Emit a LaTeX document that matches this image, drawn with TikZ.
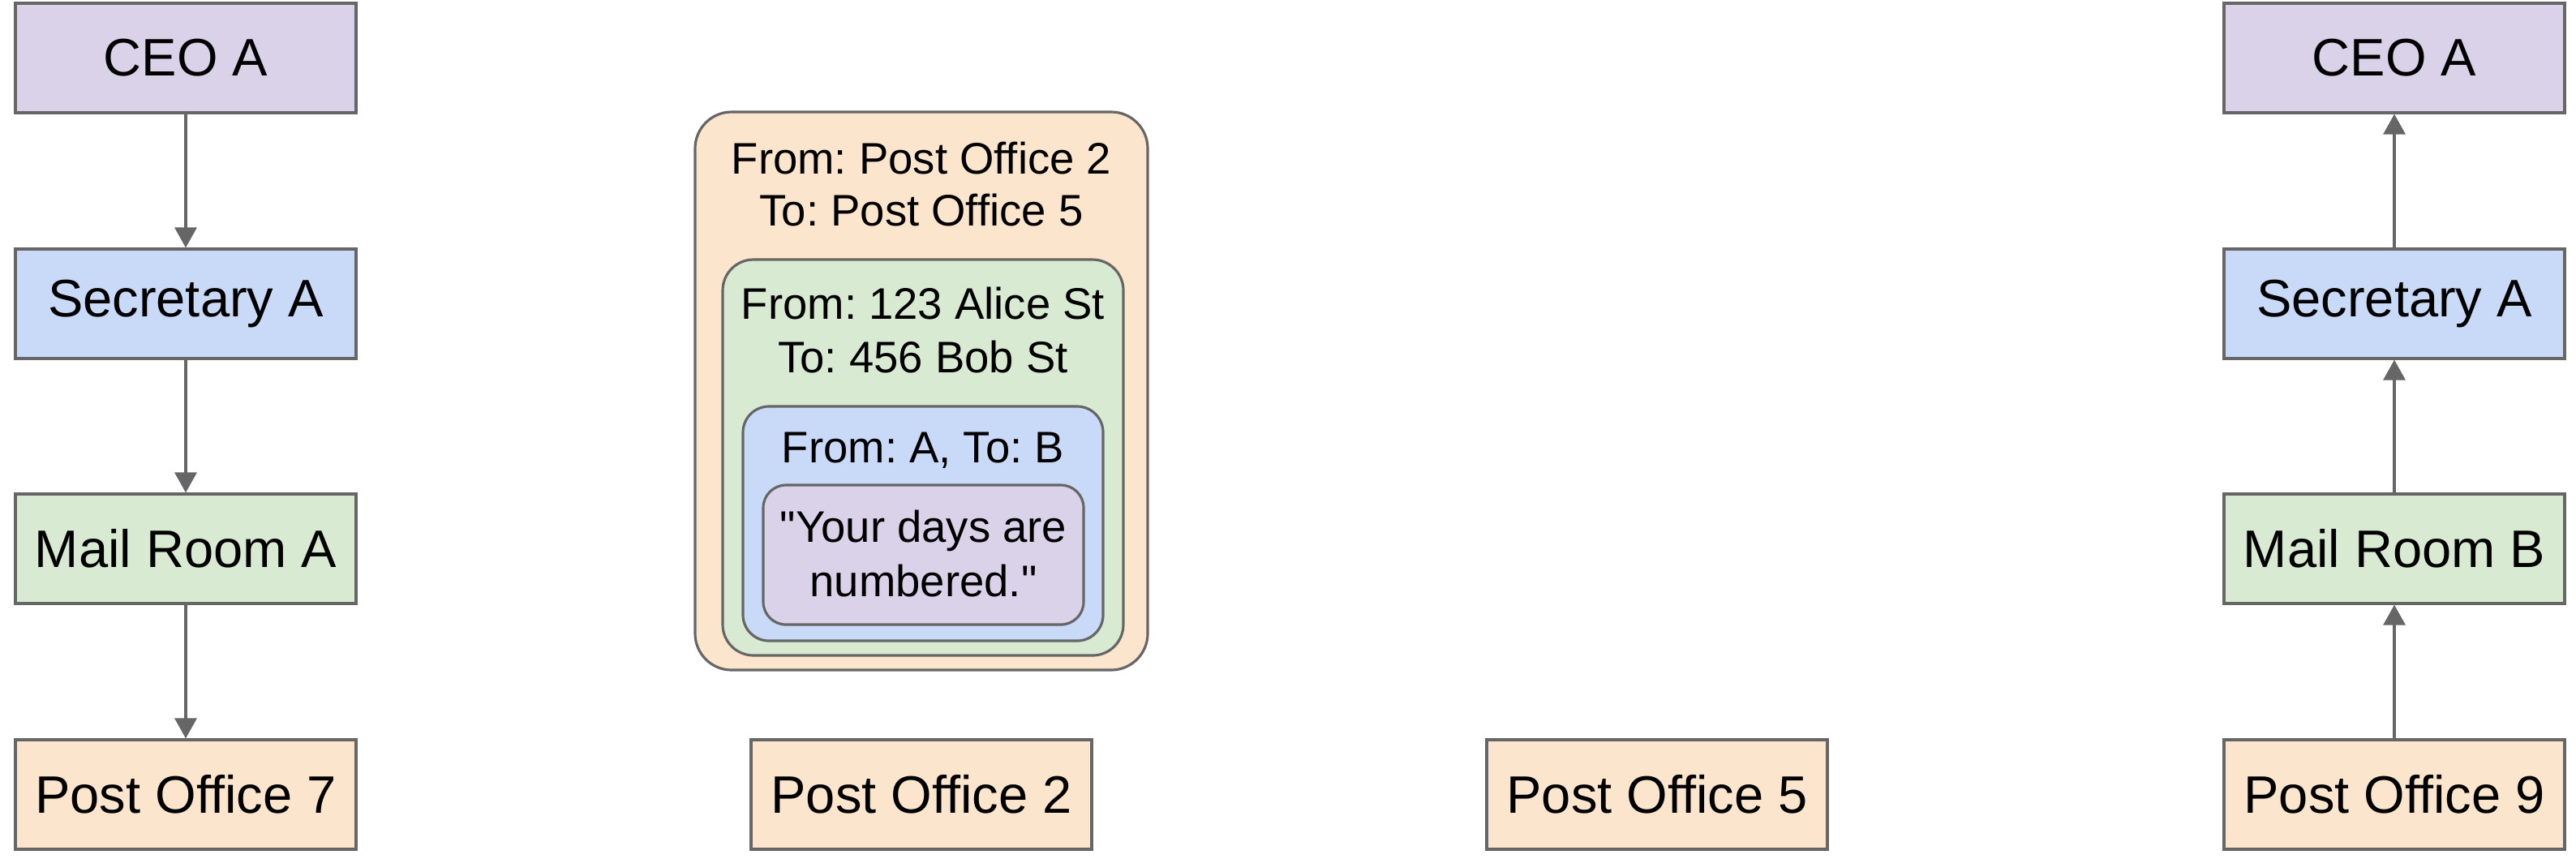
\documentclass[tikz,border=0pt]{standalone}
\usepackage{fontspec}
\setmainfont{Liberation Sans}[Ligatures=TeXOff]
\usetikzlibrary{arrows.meta}
\definecolor{ceofill}{HTML}{D9D2E9}
\definecolor{secfill}{HTML}{C9DAF8}
\definecolor{mailfill}{HTML}{D9EAD3}
\definecolor{postfill}{HTML}{FCE5CD}
\definecolor{edge}{HTML}{666666}
\frenchspacing
\begin{document}
\begin{tikzpicture}[x=1cm,y=-1cm,
	box/.style={draw=edge, line width=0.9pt, minimum width=4.2cm, minimum height=1.35cm, inner sep=0pt, font=\fontsize{18.5}{22}\selectfont},
	env/.style={draw=edge, line width=0.9pt, inner sep=0pt},
	txt/.style={anchor=base, inner sep=0pt, font=\fontsize{15.5}{18}\selectfont},
	arr/.style={draw=edge, line width=0.9pt, -{Triangle[width=0.27cm,length=0.25cm]}}]
	
	\useasboundingbox (0,0) rectangle (31.76,10.58);
	
	% sender side
	\node[box, fill=ceofill] (ceoa) at (2.29,0.715) {CEO A};
	\node[box, fill=secfill] (seca) at (2.29,3.745) {Secretary A};
	\node[box, fill=mailfill] (maila) at (2.29,6.765) {Mail Room A};
	\node[box, fill=postfill] (po7) at (2.29,9.795) {Post Office 7};
	
	% post offices
	\node[box, fill=postfill] (po2) at (11.36,9.795) {Post Office 2};
	\node[box, fill=postfill] (po5) at (20.43,9.795) {Post Office 5};
	
	% receiver side
	\node[box, fill=ceofill] (ceob) at (29.52,0.715) {CEO A};
	\node[box, fill=secfill] (secb) at (29.52,3.745) {Secretary A};
	\node[box, fill=mailfill] (mailb) at (29.52,6.765) {Mail Room B};
	\node[box, fill=postfill] (po9) at (29.52,9.795) {Post Office 9};
	
	% nested envelopes
	\node[env, fill=postfill, rounded corners=0.45cm, minimum width=5.58cm, minimum height=6.88cm] (envpost) at (11.36,4.82) {};
	\node[env, fill=mailfill, rounded corners=0.38cm, minimum width=4.94cm, minimum height=4.88cm] (envmail) at (11.38,5.64) {};
	\node[env, fill=secfill, rounded corners=0.32cm, minimum width=4.44cm, minimum height=2.89cm] (envsec) at (11.38,6.455) {};
	\node[env, fill=ceofill, rounded corners=0.28cm, minimum width=3.95cm, minimum height=1.72cm] (envceo) at (11.385,6.84) {};
	
	\node[txt] (postfrom) at (11.36,2.14) {From: Post Office 2};
	\node[txt] (postto) at (11.36,2.78) {To: Post Office 5};
	\node[txt] (mailfrom) at (11.38,3.93) {From: 123 Alice St};
	\node[txt] (mailto) at (11.38,4.59) {To: 456 Bob St};
	\node[txt] (secfromto) at (11.38,5.70) {From: A, To: B};
	\node[txt] (msgone) at (11.385,6.68) {"Your days are};
	\node[txt] (msgtwo) at (11.385,7.35) {numbered."};
	
	\draw[arr] (ceoa) -- (seca);
	\draw[arr] (seca) -- (maila);
	\draw[arr] (maila) -- (po7);
	
	\draw[arr] (po9) -- (mailb);
	\draw[arr] (mailb) -- (secb);
	\draw[arr] (secb) -- (ceob);
	
\end{tikzpicture}
\end{document}
